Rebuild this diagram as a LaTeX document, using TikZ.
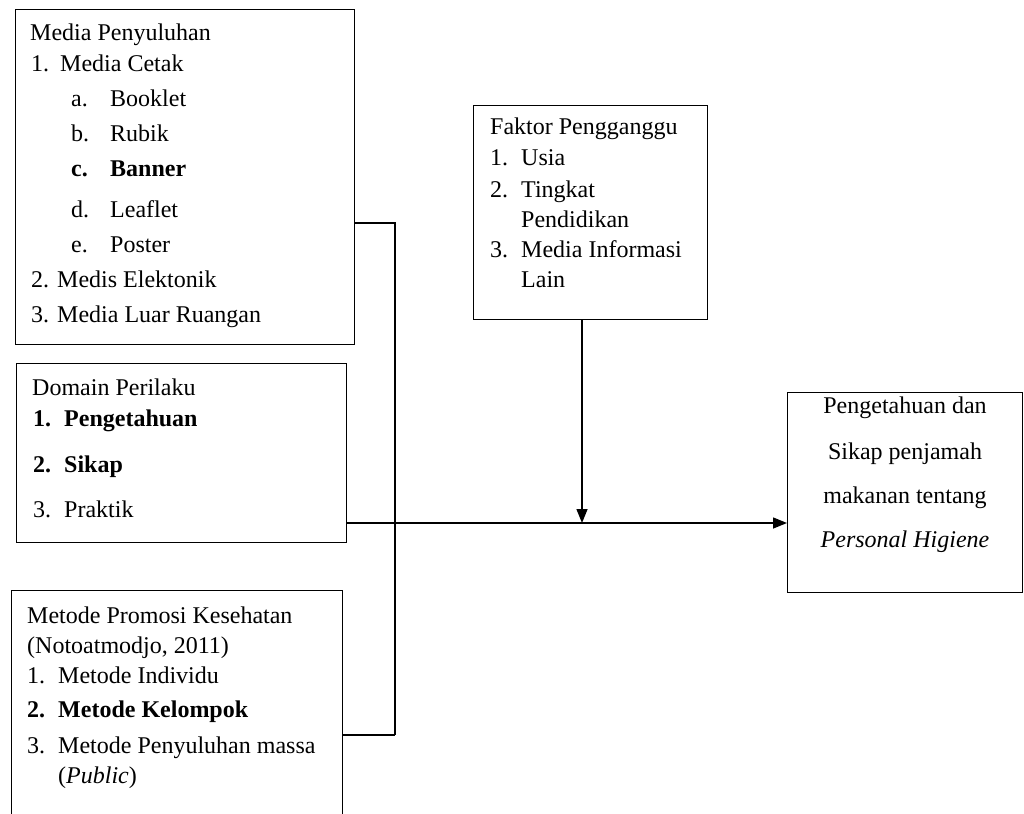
\documentclass[tikz,border=0pt]{standalone}
\usepackage{fontspec}
\setmainfont{Liberation Serif}
\usepackage{tikz}
\usetikzlibrary{positioning, calc, arrows.meta}

\begin{document}
\begin{tikzpicture}[x=1pt, y=-1pt,
    box/.style={draw, line width=1.4pt, anchor=north west, inner sep=0pt},
    txt/.style={anchor=base west, inner sep=0pt, font=\fontsize{24}{28}\selectfont},
    ctr/.style={anchor=base, inner sep=0pt, font=\fontsize{24}{28}\selectfont},
    link/.style={line width=1.4pt},
    arr/.style={line width=1.4pt, -{Triangle[length=14pt, width=11pt]}}]
    \clip (0,0) rectangle (1024,813);
    \fill[white] (0,0) rectangle (1024,813);

    \node[box, minimum width=339pt, minimum height=335pt] (media) at (15,9) {};
    \node[box, minimum width=330pt, minimum height=179pt] (domain) at (16,363) {};
    \node[box, minimum width=331pt, minimum height=240pt] (metode) at (11,590) {};
    \node[box, minimum width=234pt, minimum height=214pt] (faktor) at (473,105) {};
    \node[box, minimum width=235pt, minimum height=200pt] (hasil) at (787,392) {};

    \node[txt] (m0) at (30,41) {Media Penyuluhan};
    \node[txt] (m1) at (31,72) {1.};
    \node[txt] (m1t) at (60,72) {Media Cetak};
    \node[txt] (ma) at (71,107) {a.};
    \node[txt] (mat) at (110,107) {Booklet};
    \node[txt] (mb) at (71,142) {b.};
    \node[txt] (mbt) at (110,142) {Rubik};
    \node[txt] (mc) at (71,176) {\textbf{c.}};
    \node[txt] (mct) at (110,176) {\textbf{Banner}};
    \node[txt] (md) at (71,217) {d.};
    \node[txt] (mdt) at (110,217) {Leaflet};
    \node[txt] (me) at (71,252) {e.};
    \node[txt] (met) at (110,252) {Poster};
    \node[txt] (m2) at (31,287) {2. Medis Elektonik};
    \node[txt] (m3) at (31,322) {3. Media Luar Ruangan};

    \node[txt] (d0) at (32,395) {Domain Perilaku};
    \node[txt] (d1) at (33,426) {\textbf{1.}};
    \node[txt] (d1t) at (64,426) {\textbf{Pengetahuan}};
    \node[txt] (d2) at (33,472) {\textbf{2.}};
    \node[txt] (d2t) at (64,472) {\textbf{Sikap}};
    \node[txt] (d3) at (33,517) {3.};
    \node[txt] (d3t) at (64,517) {Praktik};

    \node[txt] (k0) at (27,623) {Metode Promosi Kesehatan};
    \node[txt] (k0b) at (27,653) {(Notoatmodjo, 2011)};
    \node[txt] (k1) at (27,683) {1.};
    \node[txt] (k1t) at (58,683) {Metode Individu};
    \node[txt] (k2) at (27,717) {\textbf{2.}};
    \node[txt] (k2t) at (58,717) {\textbf{Metode Kelompok}};
    \node[txt] (k3) at (27,753) {3.};
    \node[txt] (k3t) at (58,753) {Metode Penyuluhan massa};
    \node[txt] (k3b) at (58,783) {(\textit{Public})};

    \node[txt] (f0) at (490,135) {Faktor Pengganggu};
    \node[txt] (f1) at (490,166) {1.};
    \node[txt] (f1t) at (521,166) {Usia};
    \node[txt] (f2) at (490,197) {2.};
    \node[txt] (f2t) at (521,197) {Tingkat};
    \node[txt] (f2b) at (521,227) {Pendidikan};
    \node[txt] (f3) at (490,257) {3.};
    \node[txt] (f3t) at (521,257) {Media Informasi};
    \node[txt] (f3b) at (521,287) {Lain};

    \node[ctr] (h1) at (905,413) {Pengetahuan dan};
    \node[ctr] (h2) at (905,459) {Sikap penjamah};
    \node[ctr] (h3) at (905,503) {makanan tentang};
    \node[ctr] (h4) at (905,547) {\textit{Personal Higiene}};

    \coordinate (top) at (395,223);
    \coordinate (bot) at (395,735);
    \coordinate (mid) at (582,523);
    \draw[link] (media.east |- top) -- (top) -- (bot);
    \draw[link] (metode.east |- bot) -- (bot);
    \draw[link] (domain.east |- mid) -- (mid);
    \draw[arr] (mid) -- (hasil.west |- mid);
    \draw[arr] (faktor.south -| mid) -- (mid);
\end{tikzpicture}
\end{document}
